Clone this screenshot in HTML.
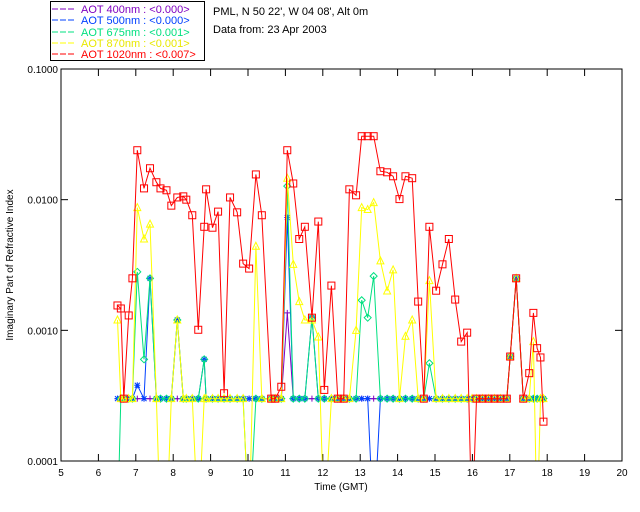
<!DOCTYPE html>
<html><head><meta charset="utf-8"><style>
html,body{margin:0;padding:0;background:#fff;width:640px;height:512px;overflow:hidden}
svg{display:block;font-family:"Liberation Sans",sans-serif}
</style></head><body>
<svg id="chart" width="640" height="512" viewBox="0 0 640 512">
<rect x="50.5" y="1.5" width="154" height="59" fill="#fff" stroke="#000"/>
<g font-size="11">
<g><line x1="52" y1="9" x2="74" y2="9" stroke="#7f00c0" stroke-dasharray="6,2"/><text x="81" y="13" fill="#7f00c0">AOT  400nm : &lt;0.000&gt;</text></g>
<g><line x1="52" y1="20" x2="74" y2="20" stroke="#0040ff" stroke-dasharray="6,2"/><text x="81" y="24" fill="#0040ff">AOT  500nm : &lt;0.000&gt;</text></g>
<g><line x1="52" y1="32" x2="74" y2="32" stroke="#00e080" stroke-dasharray="6,2"/><text x="81" y="36" fill="#00e080">AOT  675nm : &lt;0.001&gt;</text></g>
<g><line x1="52" y1="43" x2="74" y2="43" stroke="#ffff00" stroke-dasharray="6,2"/><text x="81" y="47" fill="#e8e800">AOT  870nm : &lt;0.001&gt;</text></g>
<g><line x1="52" y1="54" x2="74" y2="54" stroke="#ff0000" stroke-dasharray="6,2"/><text x="81" y="58" fill="#ff0000">AOT 1020nm : &lt;0.007&gt;</text></g>
</g>
<text x="213" y="15" font-size="11">PML, N 50 22', W 04 08', Alt 0m</text>
<text x="213" y="33" font-size="11">Data from: 23 Apr 2003</text>
<text transform="translate(13,265) rotate(-90)" text-anchor="middle" font-size="10">Imaginary Part of Refractive Index</text>
<text x="341" y="490" text-anchor="middle" font-size="10">Time (GMT)</text>
<defs><clipPath id="clip"><rect x="61" y="69" width="561" height="392"/></clipPath></defs>
<g id="axes"></g>
<g id="series" clip-path="url(#clip)"></g>
<rect x="61" y="69" width="561" height="392" fill="none" stroke="#000"/>
</svg>
<script>
const times=[6.51,6.60,6.68,6.81,6.91,7.04,7.22,7.38,7.55,7.66,7.82,7.95,8.11,8.27,8.35,8.51,8.67,8.83,8.88,9.05,9.20,9.36,9.52,9.71,9.87,10.03,10.21,10.37,10.62,10.73,10.89,11.05,11.21,11.37,11.52,11.71,11.88,12.04,12.23,12.40,12.56,12.71,12.89,13.04,13.20,13.36,13.54,13.72,13.88,14.05,14.21,14.39,14.55,14.70,14.85,15.03,15.20,15.37,15.54,15.70,15.86,15.99,16.11,16.27,16.43,16.59,16.75,16.92,17.01,17.17,17.36,17.52,17.63,17.73,17.82,17.90];
const red=[0.00155,0.00147,0.0003,0.0013,0.0025,0.0239,0.0122,0.0174,0.0136,0.0122,0.0118,0.009,0.0104,0.0106,0.01,0.0076,0.00101,0.0062,0.012,0.0061,0.0081,0.00033,0.0104,0.008,0.00324,0.00297,0.0156,0.0076,0.0003,0.0003,0.00037,0.0239,0.0133,0.005,0.0062,0.00125,0.0068,0.00035,0.0022,0.0003,0.0003,0.012,0.0108,0.0306,0.0306,0.0306,0.0165,0.0162,0.0151,0.0101,0.0151,0.0146,0.00166,0.0003,0.0062,0.00201,0.0032,0.005,0.00172,0.00082,0.00096,0.00003,0.0003,0.0003,0.0003,0.0003,0.0003,0.0003,0.00063,0.0025,0.0003,0.00047,0.00136,0.00073,0.00062,0.0002];
const yellow=[0.0012,0.0003,0.0003,0.0003,0.0003,0.0087,0.005,0.0065,0.0003,0.00003,0.00003,0.0003,0.0012,0.0003,0.0003,0.0003,0.00003,0.0003,0.0003,0.0003,0.0003,0.0003,0.0003,0.0003,0.0003,0.00003,0.0044,0.0003,0.0003,0.0003,0.0003,0.0146,0.0032,0.00166,0.0012,0.0012,0.00089,0.00003,0.0003,0.0003,0.0003,0.0003,0.001,0.0087,0.0084,0.0095,0.0034,0.002,0.0029,0.0003,0.0009,0.0012,0.0003,0.0003,0.0024,0.0003,0.0003,0.0003,0.0003,0.0003,0.0003,0.0003,0.0003,0.0003,0.0003,0.0003,0.0003,0.0003,0.00063,0.0025,0.0003,0.0003,0.00082,0.00003,0.0003,0.0003];
const green=[0.00003,0.0003,0.0003,0.0003,0.0003,0.0028,0.0006,0.0025,0.0003,0.0003,0.0003,0.0003,0.0012,0.0003,0.0003,0.0003,0.0003,0.0006,0.0003,0.0003,0.0003,0.0003,0.0003,0.0003,0.0003,0.00003,0.0003,0.0003,0.0003,0.0003,0.0003,0.0127,0.0003,0.0003,0.0003,0.00125,0.0003,0.0003,0.0003,0.0003,0.0003,0.0003,0.0003,0.0017,0.00125,0.0026,0.0003,0.0003,0.0003,0.0003,0.0003,0.0003,0.0003,0.0003,0.00056,0.0003,0.0003,0.0003,0.0003,0.0003,0.0003,0.0003,0.0003,0.0003,0.0003,0.0003,0.0003,0.0003,0.00063,0.0025,0.0003,0.0003,0.0003,0.0003,0.0003,0.0003];
const blue=[0.0003,0.0003,0.0003,0.0003,0.0003,0.00038,0.0003,0.0025,0.0003,0.0003,0.0003,0.0003,0.0012,0.0003,0.0003,0.0003,0.0003,0.0006,0.0003,0.0003,0.0003,0.0003,0.0003,0.0003,0.0003,0.0003,0.0003,0.0003,0.0003,0.0003,0.0003,0.0073,0.0003,0.0003,0.0003,0.00125,0.0003,0.0003,0.0003,0.0003,0.0003,0.0003,0.0003,0.0003,0.0003,0.00003,0.0003,0.0003,0.0003,0.0003,0.0003,0.0003,0.0003,0.0003,0.0003,0.0003,0.0003,0.0003,0.0003,0.0003,0.0003,0.0003,0.0003,0.0003,0.0003,0.0003,0.0003,0.0003,0.00063,0.0025,0.0003,0.0003,0.0003,0.0003,0.0003,0.0003];
const purple=[0.0003,0.0003,0.0003,0.0003,0.0003,0.0003,0.0003,0.0003,0.0003,0.0003,0.0003,0.0003,0.0003,0.0003,0.0003,0.0003,0.0003,0.0003,0.0003,0.0003,0.0003,0.0003,0.0003,0.0003,0.0003,0.0003,0.0003,0.0003,0.0003,0.0003,0.0003,0.00136,0.0003,0.0003,0.0003,0.0003,0.0003,0.0003,0.0003,0.0003,0.0003,0.0003,0.0003,0.0003,0.0003,0.0003,0.0003,0.0003,0.0003,0.0003,0.0003,0.0003,0.0003,0.0003,0.0003,0.0003,0.0003,0.0003,0.0003,0.0003,0.0003,0.0003,0.0003,0.0003,0.0003,0.0003,0.0003,0.0003,0.00063,0.0025,0.0003,0.0003,0.0003,0.0003,0.0003,0.0003];
const xTicks=[5,6,7,8,9,10,11,12,13,14,15,16,17,18,19,20];
const yTicks=[0.1,0.01,0.001,0.0001];
const yTickLabels=["0.1000","0.0100","0.0010","0.0001"];

const NS="http://www.w3.org/2000/svg";
const X0=61,X1=622,Y0=69,Y1=461;
function xs(t){return X0+(t-5)/(20-5)*(X1-X0);}
function ys(v){return Y1-(Math.log10(v)+4)/3*(Y1-Y0);}
function mk(tag,at,parent){const e=document.createElementNS(NS,tag);for(const k in at)e.setAttribute(k,at[k]);parent.appendChild(e);return e;}
const axes=document.getElementById('axes');
xTicks.forEach(t=>{
  const x=xs(t);
  const a=mk('line',{x1:x,y1:Y1,x2:x,y2:Y1-7,stroke:'#000'},axes);
  
  
  const b=mk('line',{x1:x,y1:Y0,x2:x,y2:Y0+7,stroke:'#000'},axes);
  
  
  const l=mk('text',{x:x,y:Y1+15,'text-anchor':'middle','font-size':'10'},axes);
  l.textContent=String(t);
  
  
});
yTicks.forEach((v,i)=>{
  const y=ys(v);
  const a=mk('line',{x1:X0,y1:y,x2:X0+7,y2:y,stroke:'#000'},axes);
  
  
  const b=mk('line',{x1:X1,y1:y,x2:X1-7,y2:y,stroke:'#000'},axes);
  
  
  const l=mk('text',{x:X0-3,y:y+4,'text-anchor':'end','font-size':'10'},axes);
  l.textContent=yTickLabels[i];
  
  
});
const sg=document.getElementById('series');
function marker(kind,x,y,c,g){
  let e;
  if(kind==='plus'){e=mk('path',{d:`M${x-3},${y}H${x+3}M${x},${y-3}V${y+3}`,stroke:c,fill:'none'},g);}
  else if(kind==='star'){e=mk('path',{d:`M${x-3},${y}H${x+3}M${x},${y-3}V${y+3}M${x-2.5},${y-2.5}L${x+2.5},${y+2.5}M${x-2.5},${y+2.5}L${x+2.5},${y-2.5}`,stroke:c,fill:'none'},g);}
  else if(kind==='diamond'){e=mk('path',{d:`M${x},${y-3.5}L${x+3.5},${y}L${x},${y+3.5}L${x-3.5},${y}Z`,stroke:c,fill:'none'},g);}
  else if(kind==='tri'){e=mk('path',{d:`M${x},${y-4}L${x+3.5},${y+3}L${x-3.5},${y+3}Z`,stroke:c,fill:'none'},g);}
  else {e=mk('rect',{x:x-3.5,y:y-3.5,width:7,height:7,stroke:c,fill:'none'},g);}
  
  
}
const seriesList=[
  {name:'aot-400',vals:purple,c:'#7f00c0',m:'plus'},
  {name:'aot-500',vals:blue,c:'#0040ff',m:'star'},
  {name:'aot-675',vals:green,c:'#00e080',m:'diamond'},
  {name:'aot-870',vals:yellow,c:'#ffff00',m:'tri'},
  {name:'aot-1020',vals:red,c:'#ff0000',m:'square'}
];
seriesList.forEach(s=>{
  const g=mk('g',{},sg);
  
  
  const pts=s.vals.map((v,i)=>xs(times[i]).toFixed(1)+','+ys(v).toFixed(1)).join(' ');
  const pl=mk('polyline',{points:pts,fill:'none',stroke:s.c,'stroke-width':1},g);
  
  
  s.vals.forEach((v,i)=>marker(s.m,xs(times[i]),ys(v),s.c,g));
});
</script>
</body></html>
